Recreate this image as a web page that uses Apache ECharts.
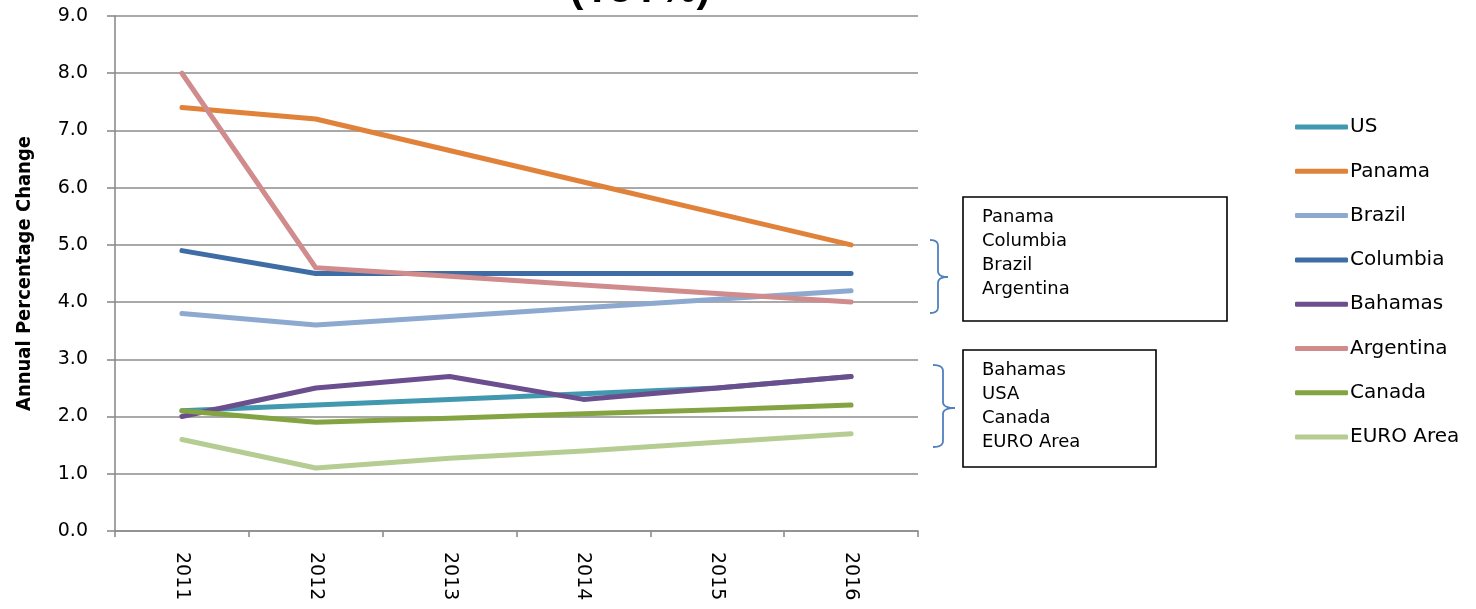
<!DOCTYPE html>
<html>
<head>
<meta charset="utf-8">
<script src="https://cdn.jsdelivr.net/npm/echarts@6/dist/echarts.min.js"></script>
<style>
  html, body { margin: 0; padding: 0; background: #fff; }
  #chart { width: 1476px; height: 609px; }
</style>
</head>
<body>
<div id="chart"></div>
<script>
// Annual percentage change by economy, 2011-2016
const years = ['2011', '2012', '2013', '2014', '2015', '2016'];

const us        = [2.1, 2.2, 2.3, 2.4, 2.5, 2.7];
const panama    = [7.4, 7.2, 6.65, 6.1, 5.55, 5.0];
const brazil    = [3.8, 3.6, 3.75, 3.9, 4.05, 4.2];
const columbia  = [4.9, 4.5, 4.5, 4.5, 4.5, 4.5];
const bahamas   = [2.0, 2.5, 2.7, 2.3, 2.5, 2.7];
const argentina = [8.0, 4.6, 4.45, 4.3, 4.15, 4.0];
const canada    = [2.1, 1.9, 1.97, 2.05, 2.12, 2.2];
const euroArea  = [1.6, 1.1, 1.27, 1.4, 1.55, 1.7];

const seriesNames = ['US', 'Panama', 'Brazil', 'Columbia', 'Bahamas', 'Argentina', 'Canada', 'EURO Area'];
const seriesData = [us, panama, brazil, columbia, bahamas, argentina, canada, euroArea];
const seriesColors = ['#4198AF', '#E0823A', '#8EA9D0', '#3E6DA6', '#6B4E8E', '#D08C8C', '#84A443', '#B5CC92'];

const groupHigh = ['Panama', 'Columbia', 'Brazil', 'Argentina'];
const groupLow = ['Bahamas', 'USA', 'Canada', 'EURO Area'];

const yTicks = { min: 0, max: 9, step: 1 };

const axisGrey = '#8c8c8c';
const bodyFont = 'DejaVu Sans';

const chart = echarts.init(document.getElementById('chart'), null, { renderer: 'canvas' });

function groupBox(x, y, w, h, lines) {
  return {
    type: 'group',
    children: [
      {
        type: 'rect',
        shape: { x: x, y: y, width: w, height: h },
        style: { fill: '#fff', stroke: '#000', lineWidth: 1.6 }
      },
      {
        type: 'text',
        x: x + 19,
        y: y + 8,
        style: {
          text: lines.join('\n'),
          font: '18px "DejaVu Sans"',
          lineHeight: 24,
          fill: '#000',
          align: 'left',
          verticalAlign: 'top'
        }
      }
    ]
  };
}

// Quadratic bezier sampled into points for a polyline
function quad(p0, c, p1, n) {
  const pts = [];
  for (let k = 0; k <= n; k++) {
    const t = k / n;
    const a = (1 - t) * (1 - t), b = 2 * (1 - t) * t, d = t * t;
    pts.push([a * p0[0] + b * c[0] + d * p1[0], a * p0[1] + b * c[1] + d * p1[1]]);
  }
  return pts;
}

// Right-facing curly brace: ends at x0, spine at xv, point at xt
function brace(x0, xv, xt, yTop, yMid, yBot) {
  const r = 6;
  const pts = []
    .concat(quad([x0, yTop], [xv, yTop], [xv, yTop + r], 8))
    .concat(quad([xv, yMid - r], [xv, yMid], [xt, yMid], 8))
    .concat(quad([xt, yMid], [xv, yMid], [xv, yMid + r], 8))
    .concat(quad([xv, yBot - r], [xv, yBot], [x0, yBot], 8));
  return {
    type: 'polyline',
    shape: { points: pts },
    style: { fill: null, stroke: '#4F81BD', lineWidth: 1.8 }
  };
}

const option = {
  backgroundColor: '#fff',
  animation: false,
  grid: { left: 115, right: 558, top: 16, bottom: 78, containLabel: false },
  legend: {
    orient: 'vertical',
    left: 1290,
    top: 111,
    icon: 'roundRect',
    itemWidth: 53,
    itemHeight: 5,
    itemGap: 22.3,
    textStyle: { fontFamily: bodyFont, fontSize: 20, color: '#000', lineHeight: 22, padding: [0, 0, 0, -3] },
    data: seriesNames
  },
  xAxis: {
    type: 'category',
    data: years,
    boundaryGap: true,
    axisLine: { lineStyle: { color: axisGrey, width: 1.6 } },
    axisTick: { show: true, length: 6, lineStyle: { color: axisGrey, width: 1.6 } },
    axisLabel: { rotate: -90, margin: 21, fontFamily: bodyFont, fontSize: 19, color: '#000' },
    splitLine: { show: false }
  },
  yAxis: {
    type: 'value',
    min: yTicks.min,
    max: yTicks.max,
    interval: yTicks.step,
    name: 'Annual Percentage Change',
    nameLocation: 'middle',
    nameRotate: 90,
    nameGap: 80,
    nameTextStyle: { fontFamily: '"Liberation Sans Narrow", "DejaVu Sans Condensed", sans-serif', fontWeight: 'bold', fontSize: 20, color: '#000' },
    axisLine: { show: true, lineStyle: { color: axisGrey, width: 1.6 } },
    axisTick: { show: true, length: 8, lineStyle: { color: axisGrey, width: 1.6 } },
    axisLabel: { margin: 27, fontFamily: bodyFont, fontSize: 19, color: '#000', formatter: v => v.toFixed(1) },
    splitLine: { show: true, lineStyle: { color: axisGrey, width: 1.6 } }
  },
  series: seriesNames.map((name, i) => ({
    name: name,
    type: 'line',
    data: seriesData[i],
    symbol: 'none',
    color: seriesColors[i],
    lineStyle: { width: 5, cap: 'round', join: 'round', color: seriesColors[i] },
    z: 2 + i
  })),
  graphic: [
    {
      type: 'text',
      x: 640,
      y: 11,
      style: {
        text: '(YoY%)',
        font: 'bold 41px "Liberation Sans"',
        fill: '#000',
        align: 'center',
        verticalAlign: 'bottom'
      }
    },
    groupBox(963, 197, 264, 124, groupHigh),
    groupBox(963, 350, 193, 117, groupLow),
    brace(930, 938, 948, 240, 277, 313),
    brace(933, 943, 955, 365, 408, 447)
  ]
};

chart.setOption(option);
</script>
</body>
</html>
